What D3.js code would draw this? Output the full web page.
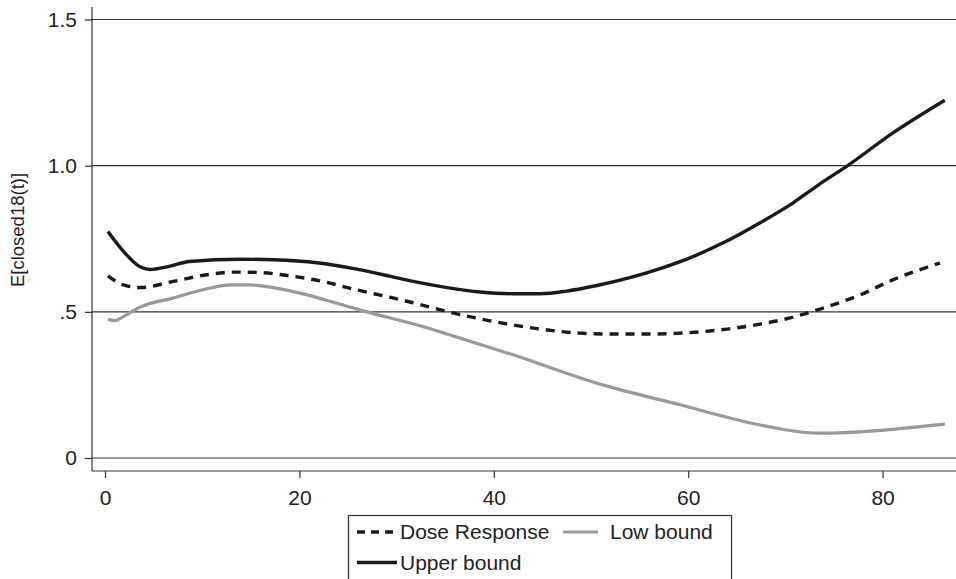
<!DOCTYPE html>
<html>
<head>
<meta charset="utf-8">
<script src="https://cdn.jsdelivr.net/npm/d3@7"></script>
<style>
  body { margin: 0; background: #fff; }
  svg { font-family: "Liberation Sans", Arial, Helvetica, sans-serif; }
</style>
</head>
<body>
<div id="chart"></div>
<script>
const width = 956,
      height = 579;

// data
const doseX = [0.3, 1.9, 3.6, 7, 10.5, 13.2, 15.6, 19, 22.4, 25.9, 29.3, 31.7, 35.2, 38.6, 42, 45.5, 48.9, 52.3, 55.8, 59.2, 64, 67.4, 70.8, 73.3, 77.7, 81.1, 85.9];
const doseY = [0.623, 0.592, 0.583, 0.604, 0.627, 0.636, 0.635, 0.623, 0.604, 0.575, 0.55, 0.531, 0.501, 0.476, 0.455, 0.438, 0.427, 0.424, 0.424, 0.427, 0.441, 0.458, 0.482, 0.507, 0.558, 0.61, 0.667];

const lowX = [0.3, 1.0, 1.9, 3.6, 7, 10.5, 12.9, 14.9, 17.3, 20.8, 24.2, 27.6, 31.7, 35.2, 38.6, 42, 45.5, 48.9, 52.3, 55.8, 59.2, 62.2, 67.4, 73.3, 86.4];
const lowY = [0.475, 0.47, 0.484, 0.516, 0.547, 0.579, 0.592, 0.592, 0.583, 0.558, 0.526, 0.494, 0.459, 0.424, 0.388, 0.353, 0.313, 0.274, 0.24, 0.21, 0.182, 0.155, 0.113, 0.085, 0.116];

const upX = [0.3, 1.9, 3.6, 4.6, 6.4, 8.7, 13.9, 17.3, 21.8, 25.9, 29.3, 31.7, 35.2, 38.6, 42, 44.8, 47.5, 50.6, 54, 57.1, 60.5, 63.6, 67.4, 70.8, 73.3, 76.4, 81.1, 86.4];
const upY = [0.775, 0.707, 0.654, 0.645, 0.654, 0.672, 0.68, 0.678, 0.668, 0.646, 0.622, 0.604, 0.583, 0.568, 0.562, 0.562, 0.571, 0.59, 0.617, 0.648, 0.689, 0.736, 0.805, 0.873, 0.932, 1.0, 1.113, 1.224];

const xTicks = [0, 20, 40, 60, 80];
const yTicks = [0, 0.5, 1, 1.5];
const yTickLabels = ["0", ".5", "1.0", "1.5"];

const svg = d3.select("#chart")
  .append("svg")
    .attr("width", width)
    .attr("height", height);

// scales
const x = d3.scaleLinear().domain([0, 80]).range([105, 882.6]);
const y = d3.scaleLinear().domain([0, 1.5]).range([458, 19.5]);

const plotLeft = 92,
      plotBottom = 471,
      plotRight = width;

// gridlines
svg.append("g")
  .selectAll("line")
  .data(yTicks)
  .join("line")
    .attr("x1", plotLeft)
    .attr("x2", plotRight)
    .attr("y1", d => y(d))
    .attr("y2", d => y(d))
    .attr("stroke", "#333")
    .attr("stroke-width", 1.2);

// y axis
const yAxis = svg.append("g")
  .attr("transform", `translate(${plotLeft},0)`)
  .call(d3.axisLeft(y).tickValues(yTicks).tickSize(7).tickPadding(8)
    .tickFormat((d, i) => yTickLabels[i]));
yAxis.select(".domain").remove();
yAxis.append("line")
  .attr("y1", 7).attr("y2", plotBottom)
  .attr("stroke", "#333").attr("stroke-width", 1.2);

// x axis
const xAxis = svg.append("g")
  .attr("transform", `translate(0,${plotBottom})`)
  .call(d3.axisBottom(x).tickValues(xTicks).tickSize(7).tickPadding(12));
xAxis.select(".domain").remove();
xAxis.append("line")
  .attr("x1", plotLeft).attr("x2", plotRight)
  .attr("stroke", "#333").attr("stroke-width", 1.2);

svg.selectAll(".tick line").attr("stroke", "#333").attr("stroke-width", 1.2);
svg.selectAll(".tick text").style("font-size", "21px").attr("fill", "#222");

// y title
svg.append("text")
  .attr("transform", "translate(24,230) rotate(-90)")
  .attr("text-anchor", "middle")
  .style("font-size", "18.5px")
  .attr("fill", "#222")
  .text("E[closed18(t)]");

// lines
const line = d3.line()
  .x(d => x(d[0]))
  .y(d => y(d[1]))
  .curve(d3.curveMonotoneX);

const series = [
  { name: "Low bound", xs: lowX, ys: lowY, color: "#999999", width: 3.2, dash: null },
  { name: "Dose Response", xs: doseX, ys: doseY, color: "#1a1a1a", width: 3.4, dash: "9,7" },
  { name: "Upper bound", xs: upX, ys: upY, color: "#1a1a1a", width: 3.4, dash: null }
];

svg.append("g")
  .selectAll("path")
  .data(series)
  .join("path")
    .attr("d", d => line(d.xs.map((v, i) => [v, d.ys[i]])))
    .attr("fill", "none")
    .attr("stroke", d => d.color)
    .attr("stroke-width", d => d.width)
    .attr("stroke-dasharray", d => d.dash);

// legend
const legend = svg.append("g");
legend.append("rect")
  .attr("x", 348.5).attr("y", 515.5)
  .attr("width", 383).attr("height", 80)
  .attr("fill", "#fff")
  .attr("stroke", "#333")
  .attr("stroke-width", 1.2);

const legendItems = [
  { s: series[1], x: 357, y: 532, tx: 400, w: 40 },
  { s: series[0], x: 563, y: 532, tx: 610, w: 35 },
  { s: series[2], x: 357, y: 562.5, tx: 400, w: 40 }
];

legendItems.forEach(function(it) {
  legend.append("line")
    .attr("x1", it.x).attr("x2", it.x + it.w)
    .attr("y1", it.y).attr("y2", it.y)
    .attr("stroke", it.s.color)
    .attr("stroke-width", it.s.width)
    .attr("stroke-dasharray", it.s.dash ? "8,6" : null);
  legend.append("text")
    .attr("x", it.tx)
    .attr("y", it.y)
    .attr("dy", "0.35em")
    .style("font-size", "21px")
    .attr("fill", "#222")
    .text(it.s.name);
});
</script>
</body>
</html>
